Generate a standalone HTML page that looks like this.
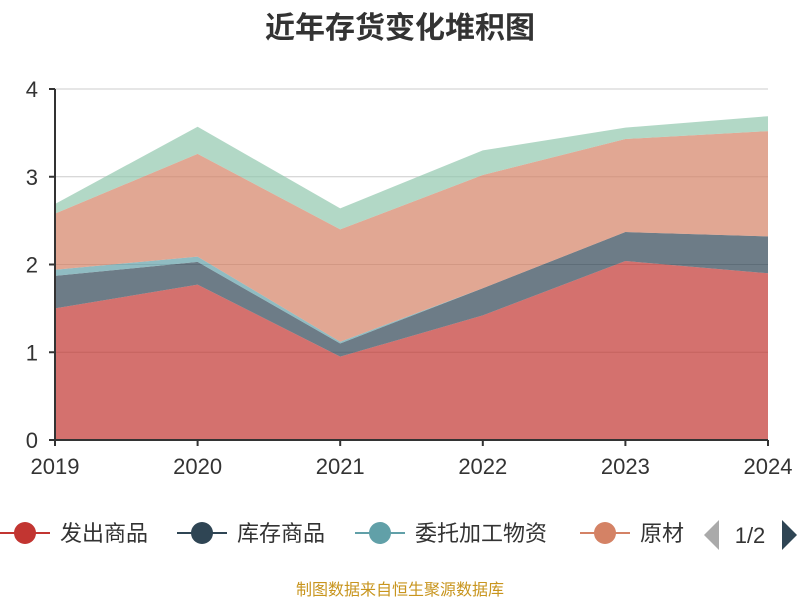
<!DOCTYPE html>
<html><head><meta charset="utf-8"><style>
body{margin:0;background:#fff;}
svg{display:block;font-family:"Liberation Sans","Noto Sans CJK SC",sans-serif;}
</style></head><body>
<svg id="chart" width="800" height="600">
<text x="400" y="38" text-anchor="middle" font-size="30" font-weight="bold" fill="#333">近年存货变化堆积图</text>
<g id="grid"></g>
<g id="areas"></g>
<g id="axes"></g>
<g id="legend">
<defs><clipPath id="lc"><rect x="0" y="500" width="684" height="60"/></clipPath></defs>
<g clip-path="url(#lc)" id="legend-items"></g>
<path d="M719,520 L719,550 L704,535 Z" fill="#aaa"/>
<text x="750" y="543" text-anchor="middle" font-size="22" fill="#333">1/2</text>
<path d="M782,520 L782,550 L797,535 Z" fill="#2f4554"/>
</g>
<text x="400" y="595" text-anchor="middle" font-size="16" fill="#c8951e">制图数据来自恒生聚源数据库</text>
</svg>
<script>
const years=["2019","2020","2021","2022","2023","2024"];
const faChu=[1.50,1.77,0.95,1.42,2.04,1.90];
const kuCun=[0.37,0.26,0.15,0.31,0.33,0.42];
const weiTuo=[0.07,0.06,0.02,0,0,0];
const yuanCai=[0.64,1.17,1.28,1.29,1.06,1.20];
const other=[0.11,0.31,0.24,0.28,0.13,0.17];
const yTicks=[0,1,2,3,4];
const seriesNames=["发出商品","库存商品","委托加工物资","原材料","周转材料"];
const NS="http://www.w3.org/2000/svg";
const X0=55,X1=768,Y0=440,YT=89,YMAX=4;
const xs=i=>X0+i*(X1-X0)/(years.length-1);
const ys=v=>Y0-v*(Y0-YT)/YMAX;
function mk(t,a,p){const e=document.createElementNS(NS,t);for(const k in a)e.setAttribute(k,a[k]);p.appendChild(e);return e;}
const grid=document.getElementById('grid'),axes=document.getElementById('axes'),areas=document.getElementById('areas');
yTicks.forEach(t=>{
 if(t>0){const l=mk('line',{x1:X0,x2:X1,y1:ys(t),y2:ys(t),stroke:'#ccc','stroke-width':1},grid);
 
 }
 const tx=mk('text',{x:X0-17,y:ys(t)+8,'text-anchor':'end','font-size':22,fill:'#333'},axes);tx.textContent=t;
 
 
 mk('line',{x1:X0-6,x2:X0,y1:ys(t),y2:ys(t),stroke:'#333','stroke-width':2},axes);
});
const yl=mk('line',{x1:X0,x2:X0,y1:YT,y2:Y0,stroke:'#333','stroke-width':2},axes);


const xl=mk('line',{x1:X0,x2:X1,y1:Y0,y2:Y0,stroke:'#333','stroke-width':2},axes);


years.forEach((y,i)=>{
 mk('line',{x1:xs(i),x2:xs(i),y1:Y0,y2:Y0+6,stroke:'#333','stroke-width':2},axes);
 const tx=mk('text',{x:xs(i),y:Y0+34,'text-anchor':'middle','font-size':22,fill:'#333'},axes);tx.textContent=y;
 
 
});
const series=[faChu,kuCun,weiTuo,yuanCai,other];
const colors=['#c23531','#2f4554','#61a0a8','#d48265','#91c7ae'];
let base=years.map(()=>0);
series.forEach((s,k)=>{
 const top=base.map((b,i)=>b+s[i]);
 let d='M'+top.map((v,i)=>xs(i)+','+ys(v)).join(' L');
 for(let i=years.length-1;i>=0;i--)d+=' L'+xs(i)+','+ys(base[i]);
 const p=mk('path',{d:d+'Z',fill:colors[k],'fill-opacity':0.7,stroke:'none'},areas);
 
 
 base=top;
});
const li=document.getElementById('legend-items');
const lx=[25,202,380,605];
[0,1,2,3].forEach(k=>{
 const g=mk('g',{},li);
 
 
 mk('line',{x1:lx[k]-25,x2:lx[k]+25,y1:533,y2:533,stroke:colors[k],'stroke-width':2},g);
 mk('circle',{cx:lx[k],cy:533,r:11,fill:colors[k]},g);
 const t=mk('text',{x:lx[k]+35,y:541,'font-size':22,fill:'#333'},g);t.textContent=seriesNames[k];
});
</script>
</body></html>
